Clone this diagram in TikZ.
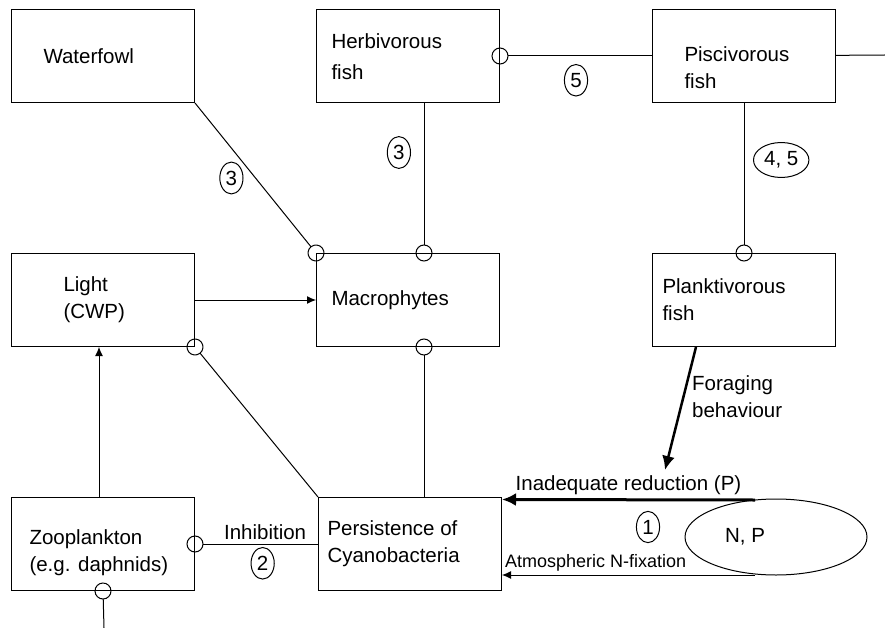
\documentclass[tikz,border=0pt]{standalone}
\usepackage{fontspec}
\setmainfont{Liberation Sans}
\usetikzlibrary{arrows.meta,shapes.geometric}

\begin{document}
\begin{tikzpicture}[x=1pt, y=-1pt, line width=1pt, font=\fontsize{20.5}{27}\selectfont]
    % Node styles
    \tikzset{box/.style={draw, rectangle, minimum height=93pt, align=flush left, inner ysep=0pt, inner xsep=#1, text width=183pt-2*#1}}
    \tikzstyle{tag}=[draw, ellipse, inner xsep=2.5pt, inner ysep=4pt]
    \tikzstyle{inhib}=[-{Circle[open, length=17pt]}, shorten >=-8.5pt]
    \tikzstyle{promote}=[-{Latex[length=9pt, width=8pt]}]
    \tikzstyle{strong}=[line width=2.5pt, -{Latex[length=14pt, width=13pt]}]

    \useasboundingbox (0,0) rectangle (885,628);

    % --- Top row: fish and birds ---
    \node[box=32pt] (waterfowl) at (103,56) {Waterfowl};
    \node[box=15pt, text height=17pt] (herbivorous) at (408,56) {Herbivorous\\[4pt]fish};
    \node[box=32pt, text height=39pt] (piscivorous) at (744,56) {Piscivorous\\fish};

    % --- Middle row ---
    \node[box=52pt] (light) at (103,300) {Light\\(CWP)};
    \node[box=15pt] (macrophytes) at (408,300) {Macrophytes};
    \node[box=10pt] (planktivorous) at (744,300) {Planktivorous\\fish};

    % --- Bottom row ---
    \node[box=18pt, text height=33pt] (zooplankton) at (103,544) {Zooplankton\\(e.g. daphnids)};
    \node[box=9pt] (cyano) at (410,544) {Persistence of\\Cyanobacteria};
    \node[draw, ellipse, minimum width=182pt, minimum height=76pt,
          label={[xshift=-31pt]center:N, P}] (np) at (776,537) {};
    \node[tag] (one) at (648,527) {1};

    % Free ends
    \coordinate (right_end) at (885,55);
    \coordinate (bottom_end) at (104,628);
    \coordinate (np_top) at (755,500);
    \coordinate (np_bottom) at (755,575);
    \coordinate (forage_end) at (665,470);

    % --- Connectors between fish ---
    \draw[inhib] (piscivorous) -- node[tag, below=8pt] {5} (herbivorous);
    \draw (piscivorous) -- (right_end);
    \draw[inhib] (piscivorous) -- node[tag, right=9pt, pos=0.38] {4, 5} (planktivorous);

    % --- Grazing on macrophytes ---
    \draw[inhib] (waterfowl.south east) -- node[tag, left=12pt] {3} (macrophytes.north west);
    \draw[inhib] ([xshift=16pt]herbivorous.south) -- node[tag, left=13pt, pos=0.33] {3} ([xshift=16pt]macrophytes.north);

    % --- Light and clear water ---
    \draw[promote] (light) -- (macrophytes);
    \draw[promote] ([xshift=-4pt]zooplankton.north) -- ([xshift=-4pt]light.south);
    \draw[inhib] (cyano.north west) -- (light.south east);
    \draw[inhib] ([xshift=14pt]cyano.north) -- ([xshift=16pt]macrophytes.south);
    \draw[inhib] (cyano) -- node[above, pos=0.43] {Inhibition} node[tag, below=3pt, pos=0.45] {2} (zooplankton);
    \draw[inhib] (bottom_end) -- (zooplankton.south);

    % --- Nutrients ---
    \draw[strong] ([xshift=-48pt]planktivorous.south) -- node[right=4pt, pos=0.4, align=left] {Foraging\\behaviour} (forage_end);
    \draw[strong, line width=3pt] (np_top) -- node[above] {Inadequate reduction (P)} ([yshift=-2.5pt]cyano.north east);
    \draw[promote] (np_bottom) -- node[above, pos=0.63, font=\fontsize{18}{20}\selectfont] {Atmospheric N-fixation} ([yshift=-31pt]cyano.east);

\end{tikzpicture}
\end{document}
